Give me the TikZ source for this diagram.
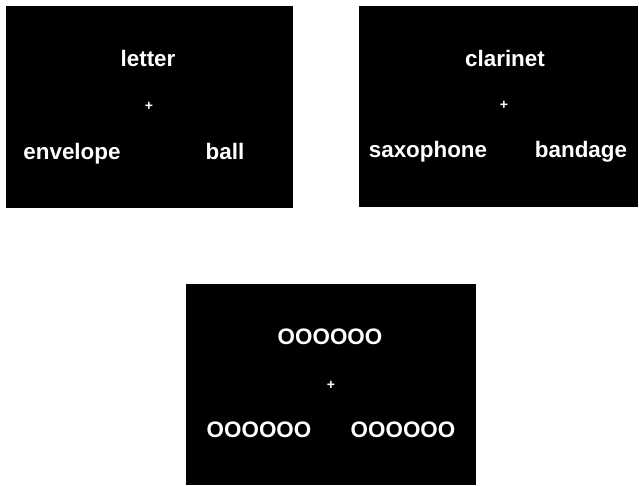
\documentclass[tikz,border=0pt]{standalone}
\usepackage{fontspec}
\setmainfont{Liberation Sans}
\begin{document}
\begin{tikzpicture}[x=1pt,y=-1pt,
  panel/.style={fill=black,draw=none},
  word/.style={text=white,font=\fontsize{22.4}{24}\selectfont\bfseries,inner sep=0pt,anchor=base},
  fix/.style={text=white,font=\fontsize{14}{14}\selectfont\bfseries,inner sep=0pt}]
\useasboundingbox (0,0) rectangle (639,485);
\fill[panel] (6,6) rectangle (293,208);
\fill[panel] (359,6) rectangle (638,207);
\fill[panel] (186,284) rectangle (476,485);
% panel 1
\node[word] (w1) at (148,66) {letter};
\node[fix] (f1) at (149,106) {+};
\node[word] (w2) at (72,159) {envelope};
\node[word] (w3) at (225,159) {ball};
% panel 2
\node[word] (w4) at (505,66) {clarinet};
\node[fix] (f2) at (504,105) {+};
\node[word] (w5) at (428,157) {saxophone};
\node[word] (w6) at (581,157) {bandage};
% panel 3
\node[word] (w7) at (330,344) {OOOOOO};
\node[fix] (f3) at (331,385) {+};
\node[word] (w8) at (259,437) {OOOOOO};
\node[word] (w9) at (403,437) {OOOOOO};
\end{tikzpicture}
\end{document}
